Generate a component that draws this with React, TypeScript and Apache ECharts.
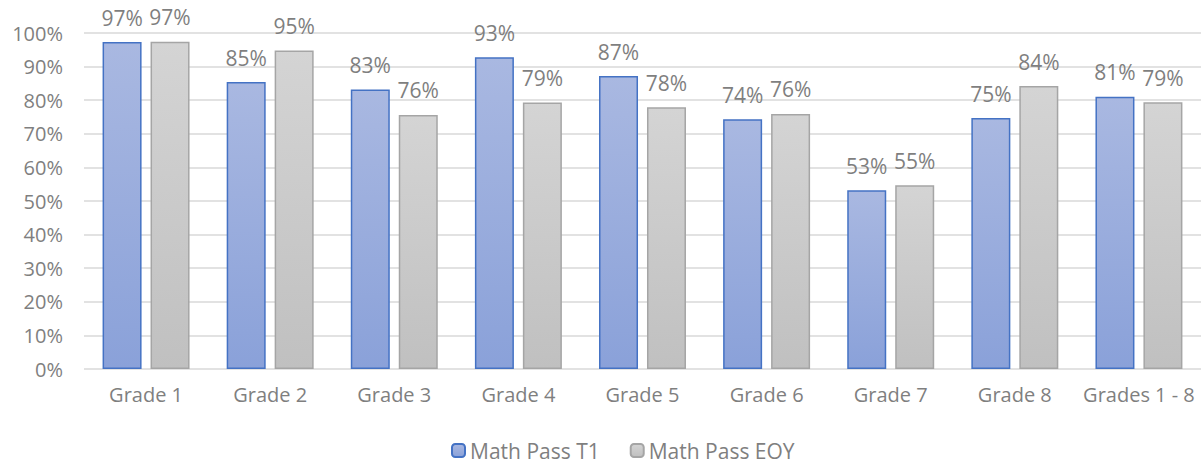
import React, { useEffect, useRef } from "react";
import * as echarts from "echarts";

const categories = ["Grade 1", "Grade 2", "Grade 3", "Grade 4", "Grade 5", "Grade 6", "Grade 7", "Grade 8", "Grades 1 - 8"];
const mathPassT1 = [97.3, 85.4, 83.2, 92.8, 87.2, 74.3, 53.2, 74.7, 81.0];
const mathPassEOY = [97.4, 94.8, 75.6, 79.3, 77.9, 75.9, 54.7, 84.2, 79.4];
const seriesNames = ["Math Pass T1", "Math Pass EOY"];

const FONT = "'Open Sans', 'Noto Sans', sans-serif";
const TEXT = "#7f7f7f";

export default function App() {
  const ref = useRef<HTMLDivElement>(null);
  useEffect(() => {
    if (!ref.current) return;
    const chart = echarts.init(ref.current, undefined, { renderer: "svg" });
    const label = {
      show: true,
      position: "top",
      distance: 14,
      color: TEXT,
      fontSize: 21,
      fontFamily: FONT,
      formatter: (p: any) => Math.round(p.value) + "%",
    };
    chart.setOption({
      animation: false,
      textStyle: { fontFamily: FONT },
      grid: { left: 84, right: -8, top: 33, bottom: 99, containLabel: false },
      legend: {
        bottom: 2,
        left: 446,
        itemWidth: 13,
        itemHeight: 13,
        itemGap: 30,
        textStyle: { color: TEXT, fontSize: 21, fontFamily: FONT },
        data: seriesNames,
      },
      xAxis: {
        type: "category",
        data: categories,
        axisLine: { show: false },
        axisTick: { show: false },
        axisLabel: { color: TEXT, fontSize: 20, fontFamily: FONT, margin: 15, interval: 0, hideOverlap: false },
      },
      yAxis: {
        type: "value",
        min: 0,
        max: 100,
        interval: 10,
        axisLine: { show: false },
        axisTick: { show: false },
        axisLabel: { color: TEXT, fontSize: 20, fontFamily: FONT, margin: 21, formatter: "{value}%" },
        splitLine: { lineStyle: { color: "#d9d9d9", width: 1.5 } },
      },
      series: [
        {
          name: seriesNames[0],
          type: "bar",
          data: mathPassT1,
          barWidth: 39,
          barGap: "23%",
          itemStyle: {
            color: new echarts.graphic.LinearGradient(0, 0, 0, 1, [
              { offset: 0, color: "#a9b8e1" },
              { offset: 1, color: "#8aa1d9" },
            ]),
            borderColor: "#4472c4",
            borderWidth: 1.5,
          },
          label,
        },
        {
          name: seriesNames[1],
          type: "bar",
          data: mathPassEOY,
          barWidth: 39,
          itemStyle: {
            color: new echarts.graphic.LinearGradient(0, 0, 0, 1, [
              { offset: 0, color: "#d4d4d4" },
              { offset: 1, color: "#c0c0c0" },
            ]),
            borderColor: "#a5a5a5",
            borderWidth: 1.5,
          },
          label,
        },
      ],
    });
    return () => chart.dispose();
  }, []);
  return (
    <div
      ref={ref}
      style={{ position: "absolute", left: 0, top: 0, width: 1201, height: 468, background: "#fff" }}
    />
  );
}
